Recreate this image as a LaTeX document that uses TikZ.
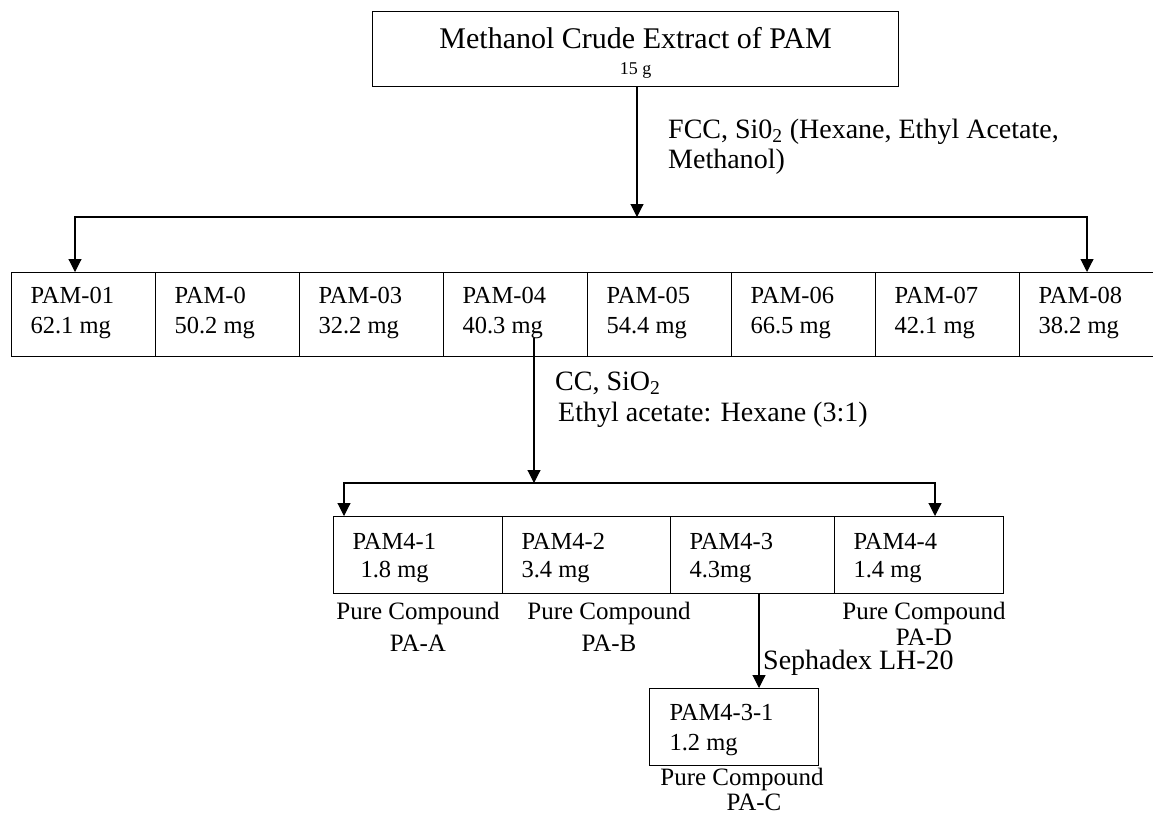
\documentclass[tikz,border=0pt]{standalone}
\usepackage{fontspec}
\setmainfont{Liberation Serif}
\usetikzlibrary{arrows.meta}
\begin{document}
\begin{tikzpicture}[x=1pt,y=-1pt,
  fixsp/.style={execute at begin node={\spaceskip=0.25em\relax\xspaceskip=0.25em\relax}},
  bx/.style={draw, line width=1.1pt, inner ysep=0pt, anchor=north west, align=left, fixsp},
  rowbox/.style={bx, minimum width=144pt, minimum height=84pt, inner xsep=19pt, text width=106pt,
                 font=\fontsize{24.5}{30}\selectfont, text height=16pt, text depth=38pt},
  subbox/.style={bx, minimum height=77pt, inner xsep=19pt, font=\fontsize{24.5}{28}\selectfont,
                 text height=16pt, text depth=27pt},
  lbl/.style={inner sep=0pt, anchor=base west, font=\fontsize{28}{30}\selectfont},
  pc/.style={inner sep=0pt, anchor=base, font=\fontsize{25}{30}\selectfont},
  arr/.style={line width=1.1pt, -{Triangle[width=13pt,length=13pt]}},
  darr/.style={line width=1.1pt, {Triangle[width=13pt,length=13pt]}-{Triangle[width=13pt,length=13pt]}}]
\useasboundingbox (0,0) rectangle (1153,815);

% title
\node[draw, line width=1.1pt, anchor=north west, minimum width=526pt, minimum height=75pt,
      inner sep=0pt, text width=526pt, align=center, fixsp, font=\fontsize{30}{26}\selectfont,
      text height=20pt, text depth=21pt]
  (title) at (372,11) {Methanol Crude Extract of PAM\\{\fontsize{18}{26}\selectfont\spaceskip=0.25em\relax 15 g}};

% first row
\node[rowbox] (p1) at (11,272)  {PAM-01\\62.1 mg};
\node[rowbox] (p2) at (155,272) {PAM-0\\50.2 mg};
\node[rowbox] (p3) at (299,272) {PAM-03\\32.2 mg};
\node[rowbox] (p4) at (443,272) {PAM-04\\40.3 mg};
\node[rowbox] (p5) at (587,272) {PAM-05\\54.4 mg};
\node[rowbox] (p6) at (731,272) {PAM-06\\66.5 mg};
\node[rowbox] (p7) at (875,272) {PAM-07\\42.1 mg};
\node[rowbox] (p8) at (1019,272) {PAM-08\\38.2 mg};

% second row
\node[subbox, minimum width=169pt, text width=131pt] (q1) at (333,516) {PAM4-1\\\hspace*{8pt}1.8 mg};
\node[subbox, minimum width=168pt, text width=130pt] (q2) at (502,516) {PAM4-2\\3.4 mg};
\node[subbox, minimum width=164pt, text width=126pt] (q3) at (670,516) {PAM4-3\\4.3mg};
\node[subbox, minimum width=169pt, text width=131pt] (q4) at (834,516) {PAM4-4\\1.4 mg};

% third box
\node[bx, minimum width=169pt, minimum height=77pt, inner xsep=20pt, text width=129pt,
      font=\fontsize{24.5}{30}\selectfont, text height=16pt, text depth=29pt] (r1) at (649,688) {PAM4-3-1\\1.2 mg};

% labels
\node[lbl] (fcc1) at (668,138) {FCC, Si0\textsubscript{2} (Hexane, Ethyl Acetate,};
\node[lbl] (fcc2) at (668,168) {Methanol)};
\node[lbl] (cc1) at (555,390) {CC, SiO\textsubscript{2}};
\node[lbl] (cc2) at (558,421) {Ethyl acetate: Hexane (3:1)};
\node[lbl] (seph) at (763,669) {Sephadex LH-20};

\node[pc] (pca1) at (418,619) {Pure Compound};
\node[pc] (pca2) at (418,651) {PA-A};
\node[pc] (pcb1) at (609,619) {Pure Compound};
\node[pc] (pcb2) at (609,651) {PA-B};
\node[pc] (pcd1) at (924,619) {Pure Compound};
\node[pc] (pcd2) at (924,645) {PA-D};
\node[pc] (pcc1) at (742,785) {Pure Compound};
\node[pc] (pcc2) at (754,810) {PA-C};

% connectors
\coordinate (j1) at (637,217);
\coordinate (hl) at (75,217);
\coordinate (hr) at (1087,217);
\draw[arr] (title.south -| j1) -- (j1);
\draw[darr] (hl |- p1.north) -- (hl) -- (hr) -- (hr |- p8.north);

\coordinate (c4) at (534,338);
\coordinate (j2) at (534,483);
\coordinate (hl2) at (344,483);
\coordinate (hr2) at (935,483);
\draw[arr] (c4) -- (j2);
\draw[darr] (hl2 |- q1.north) -- (hl2) -- (hr2) -- (hr2 |- q4.north);

\coordinate (s3) at (759,593);
\draw[arr] (q3.south -| s3) -- (s3 |- r1.north);
\end{tikzpicture}
\end{document}
